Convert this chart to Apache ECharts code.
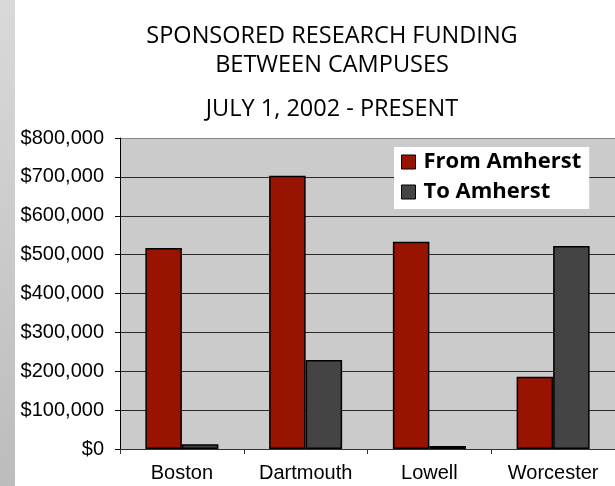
<!DOCTYPE html>
<html>
<head>
<meta charset="utf-8">
<script src="https://cdn.jsdelivr.net/npm/echarts@6/dist/echarts.min.js"></script>
<style>
  html, body { margin: 0; padding: 0; background: #fff; }
  #chart { width: 615px; height: 486px; }
</style>
</head>
<body>
<div id="chart"></div>
<script>
// campuses and the two funding directions
var campuses = ['Boston', 'Dartmouth', 'Lowell', 'Worcester'];
var fromAmherst = [517000, 703000, 533000, 186000];
var toAmherst = [12000, 229000, 8000, 522000];
var yTicks = [0, 100000, 200000, 300000, 400000, 500000, 600000, 700000, 800000];

function money(v) {
  return '$' + v.toString().replace(/\B(?=(\d{3})+(?!\d))/g, ',');
}

// gridlines dark, the top border line lighter
var gridColors = yTicks.map(function (v, i) { return i === yTicks.length - 1 ? '#888' : '#2a2a2a'; });

var myChart = echarts.init(document.getElementById('chart'));

var option = {
  animation: false,
  textStyle: { fontFamily: 'Liberation Sans' },
  title: [{
    text: 'SPONSORED RESEARCH FUNDING\nBETWEEN CAMPUSES',
    left: 327, top: 17, textAlign: 'center',
    textStyle: { fontFamily: 'Open Sans', fontWeight: 'normal', fontSize: 23.5, lineHeight: 29, color: '#000' }
  }, {
    text: 'JULY 1, 2002 - PRESENT',
    left: 327, top: 90, textAlign: 'center',
    textStyle: { fontFamily: 'Open Sans', fontWeight: 'normal', fontSize: 23.5, lineHeight: 29, color: '#000' }
  }],
  graphic: [{
    type: 'rect',
    left: 0, top: 0,
    shape: { width: 15, height: 486 },
    style: {
      fill: new echarts.graphic.LinearGradient(0, 0, 0, 1, [
        { offset: 0, color: '#d9d9d9' },
        { offset: 1, color: '#bcbcbc' }
      ])
    },
    z: 0
  }],
  legend: {
    left: 394, top: 147,
    orient: 'vertical',
    backgroundColor: '#fff',
    padding: [4, 8, 6, 7],
    itemGap: 8,
    itemWidth: 14, itemHeight: 14,
    icon: 'rect',
    itemStyle: { borderColor: '#000', borderWidth: 1 },
    textStyle: { fontFamily: 'Open Sans', fontWeight: 'bold', fontSize: 22, lineHeight: 22, color: '#000', padding: [0, 0, 0, 3] },
    data: ['From Amherst', 'To Amherst']
  },
  grid: { left: 120, top: 138, width: 504, bottom: 37, backgroundColor: '#cbcbcb', show: true, borderWidth: 0 },
  xAxis: {
    type: 'category',
    data: campuses,
    axisLine: { lineStyle: { color: '#333', width: 1 } },
    axisTick: { show: true, length: 5, lineStyle: { color: '#333' } },
    axisLabel: { fontSize: 20, color: '#000', margin: 14 }
  },
  yAxis: {
    type: 'value',
    min: 0, max: 800000, interval: 100000,
    axisLine: { show: true, lineStyle: { color: '#000', width: 1 } },
    axisTick: { show: true, length: 5, lineStyle: { color: '#000' } },
    axisLabel: { fontSize: 20, color: '#000', margin: 16, formatter: function (v) { return yTicks.indexOf(v) >= 0 ? money(v) : ''; } },
    splitLine: { lineStyle: { color: gridColors, width: 1 } }
  },
  series: [{
    name: 'From Amherst',
    type: 'bar',
    data: fromAmherst,
    barGap: '0%',
    barCategoryGap: '41%',
    itemStyle: { color: '#991400', borderColor: '#000', borderWidth: 1.5 }
  }, {
    name: 'To Amherst',
    type: 'bar',
    data: toAmherst,
    itemStyle: { color: '#444444', borderColor: '#000', borderWidth: 1.5 }
  }]
};

myChart.setOption(option);
</script>
</body>
</html>
